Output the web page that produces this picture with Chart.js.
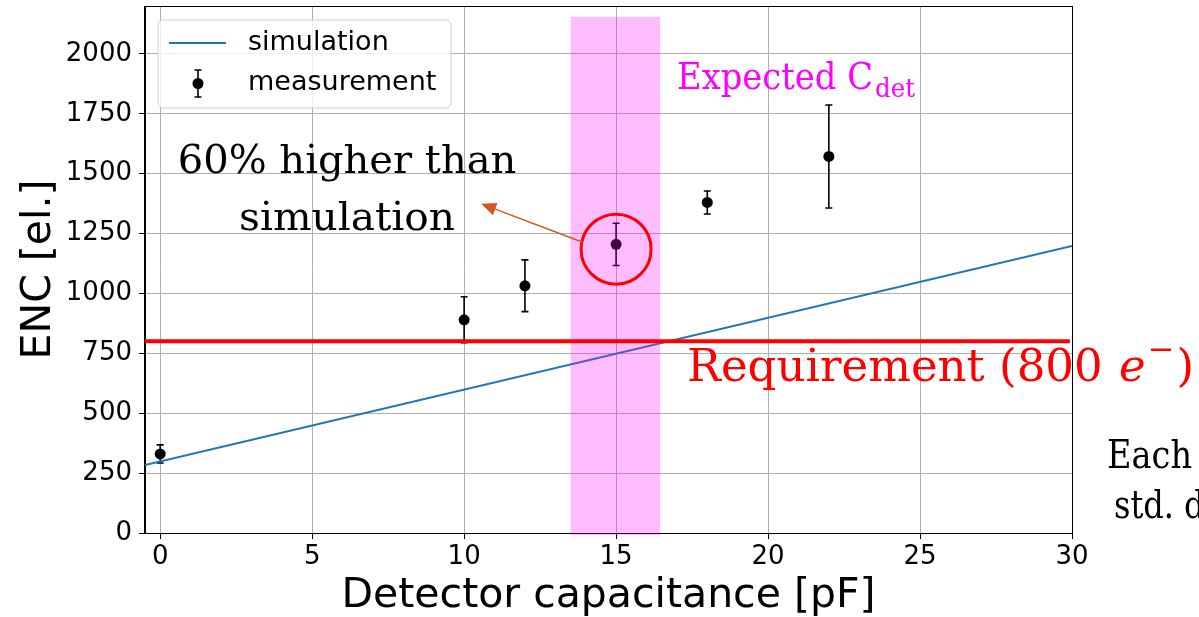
<!DOCTYPE html>
<html>
<head>
<meta charset="utf-8">
<script src="https://cdn.jsdelivr.net/npm/chart.js@4/dist/chart.umd.min.js"></script>
<style>
  html, body { margin: 0; padding: 0; background: #fff; }
  canvas { display: block; }
</style>
</head>
<body>
<canvas id="enc" width="1199" height="617"></canvas>
<script>
// Simulated ENC vs detector capacitance (straight line)
const simC = [-0.5, 30];
const simENC = [284, 1198];

// Measured ENC with one-sigma spread
const measC = [0, 10, 12, 15, 18, 22];
const measENC = [330, 890, 1032, 1205, 1380, 1572];
const measErr = [38, 96, 108, 88, 48, 215];

// Axis ticks
const xTicks = [0, 5, 10, 15, 20, 25, 30];
const yTicks = [0, 250, 500, 750, 1000, 1250, 1500, 1750, 2000];

// Design values marked on top of the plot
const requirementENC = 800;
const expectedCdet = [13.5, 16.45];
const expectedTop = 2155;
const highlight = [15, 1185];
const arrowFrom = [13.88, 1215];
const arrowTo = [10.56, 1374];

const SANS = '"DejaVu Sans", sans-serif';
const SERIF = '"DejaVu Serif", serif';

// Serif text helper: optional target width or horizontal squeeze
function txt(ctx, s, x, y, opt) {
  ctx.save();
  ctx.font = (opt.style || '') + ' ' + opt.size + 'px ' + SERIF;
  ctx.fillStyle = opt.color || '#000';
  ctx.textBaseline = 'alphabetic';
  const w = ctx.measureText(s).width;
  const sx = opt.width ? opt.width / w : (opt.sx || 1);
  let x0 = x;
  if (opt.align === 'center') x0 = x - (w * sx) / 2;
  ctx.translate(x0, y);
  ctx.scale(sx, 1);
  ctx.textAlign = 'left';
  ctx.fillText(s, 0, 0);
  ctx.restore();
  return w * sx;
}

const errorBars = {
  id: 'errorBars',
  beforeDatasetDraw(chart, args) {
    if (args.index !== 1) return;
    const { ctx, scales: { x, y } } = chart;
    ctx.save();
    ctx.strokeStyle = '#000';
    ctx.lineWidth = 1.6;
    measC.forEach((c, i) => {
      const px = x.getPixelForValue(c);
      const top = y.getPixelForValue(measENC[i] + measErr[i]);
      const bot = y.getPixelForValue(measENC[i] - measErr[i]);
      ctx.beginPath();
      ctx.moveTo(px, top); ctx.lineTo(px, bot);
      ctx.moveTo(px - 3.5, top); ctx.lineTo(px + 3.5, top);
      ctx.moveTo(px - 3.5, bot); ctx.lineTo(px + 3.5, bot);
      ctx.stroke();
    });
    ctx.restore();
  }
};

const frameAndLegend = {
  id: 'frameAndLegend',
  afterDatasetsDraw(chart) {
    const { ctx, chartArea: a } = chart;
    ctx.save();
    // axes frame
    ctx.strokeStyle = '#000';
    ctx.lineWidth = 1;
    ctx.strokeRect(Math.round(a.left) - 0.5, Math.round(a.top) + 0.5,
                   Math.round(a.right - a.left) + 1, Math.round(a.bottom - a.top));

    // legend box
    const bx = 158, by = 20, bw = 293, bh = 88, r = 5;
    ctx.beginPath();
    ctx.moveTo(bx + r, by);
    ctx.arcTo(bx + bw, by, bx + bw, by + bh, r);
    ctx.arcTo(bx + bw, by + bh, bx, by + bh, r);
    ctx.arcTo(bx, by + bh, bx, by, r);
    ctx.arcTo(bx, by, bx + bw, by, r);
    ctx.closePath();
    ctx.fillStyle = 'rgba(255,255,255,0.8)';
    ctx.fill();
    ctx.strokeStyle = '#d0d0d0';
    ctx.lineWidth = 1;
    ctx.stroke();

    const ds = chart.data.datasets;
    // line entry
    ctx.strokeStyle = ds[0].borderColor;
    ctx.lineWidth = 2;
    ctx.beginPath();
    ctx.moveTo(169, 43); ctx.lineTo(226, 43);
    ctx.stroke();
    // error-bar entry
    ctx.strokeStyle = '#000';
    ctx.lineWidth = 1.6;
    ctx.beginPath();
    ctx.moveTo(198, 70); ctx.lineTo(198, 97);
    ctx.moveTo(194.5, 70); ctx.lineTo(201.5, 70);
    ctx.moveTo(194.5, 97); ctx.lineTo(201.5, 97);
    ctx.stroke();
    ctx.fillStyle = '#000';
    ctx.beginPath();
    ctx.arc(198, 83.5, 5.5, 0, Math.PI * 2);
    ctx.fill();

    ctx.font = '27px ' + SANS;
    ctx.textBaseline = 'middle';
    ctx.fillStyle = '#000';
    ctx.fillText(ds[0].label, 248, 43);
    ctx.fillText(ds[1].label, 248, 83);
    ctx.restore();
  }
};

const overlays = {
  id: 'overlays',
  afterDraw(chart) {
    const { ctx, scales: { x, y } } = chart;
    ctx.save();

    // expected detector capacitance band
    const bl = x.getPixelForValue(expectedCdet[0]);
    const br = x.getPixelForValue(expectedCdet[1]);
    const bt = y.getPixelForValue(expectedTop);
    const bb = y.getPixelForValue(0) + 2;
    ctx.fillStyle = 'rgba(255,0,255,0.26)';
    ctx.fillRect(bl, bt, br - bl, bb - bt);

    // requirement line
    const ry = y.getPixelForValue(requirementENC);
    ctx.strokeStyle = '#ff0000';
    ctx.lineWidth = 4;
    ctx.beginPath();
    ctx.moveTo(x.getPixelForValue(-0.5), ry);
    ctx.lineTo(x.getPixelForValue(29.93), ry);
    ctx.stroke();

    // circle around the 15 pF point
    ctx.lineWidth = 3;
    ctx.beginPath();
    ctx.arc(x.getPixelForValue(highlight[0]), y.getPixelForValue(highlight[1]), 35, 0, Math.PI * 2);
    ctx.stroke();

    // arrow towards the comment
    const ax0 = x.getPixelForValue(arrowFrom[0]), ay0 = y.getPixelForValue(arrowFrom[1]);
    const ax1 = x.getPixelForValue(arrowTo[0]), ay1 = y.getPixelForValue(arrowTo[1]);
    const ang = Math.atan2(ay1 - ay0, ax1 - ax0);
    const hl = 15, hw = 6.5;
    const hx = ax1 - hl * Math.cos(ang), hy = ay1 - hl * Math.sin(ang);
    ctx.strokeStyle = '#d4561e';
    ctx.fillStyle = '#d4561e';
    ctx.lineWidth = 1.5;
    ctx.beginPath();
    ctx.moveTo(ax0, ay0); ctx.lineTo(hx, hy);
    ctx.stroke();
    ctx.beginPath();
    ctx.moveTo(ax1, ay1);
    ctx.lineTo(hx + hw * Math.sin(ang), hy - hw * Math.cos(ang));
    ctx.lineTo(hx - hw * Math.sin(ang), hy + hw * Math.cos(ang));
    ctx.closePath();
    ctx.fill();

    // comment text
    txt(ctx, '60% higher than', 347, 173, { size: 40, align: 'center' });
    txt(ctx, 'simulation', 347, 230, { size: 40, align: 'center', width: 216 });

    // expected capacitance label
    const magenta = '#ff00ff';
    const w = txt(ctx, 'Expected C', 677, 89, { size: 37, color: magenta, width: 196 });
    txt(ctx, 'det', 677 + w + 2, 97, { size: 26, color: magenta, width: 40 });

    // requirement label
    const red = '#ff0000';
    let px = 687;
    px += txt(ctx, 'Requirement (800 ', px, 381, { size: 45, color: red, width: 430 });
    px += txt(ctx, 'e', px + 2, 381, { size: 45, color: red, style: 'italic' }) + 4;
    px += txt(ctx, '\u2212', px, 360, { size: 32, color: red }) + 2;
    txt(ctx, ')', px, 381, { size: 45, color: red });

    // side note
    txt(ctx, 'Each point', 1107, 468, { size: 40, sx: 0.84 });
    txt(ctx, 'std. dev.', 1114, 518, { size: 40, sx: 0.8 });

    ctx.restore();
  }
};

const plainTick = v => String(v);

new Chart(document.getElementById('enc'), {
  type: 'scatter',
  data: {
    datasets: [
      {
        label: 'simulation',
        type: 'line',
        data: simC.map((c, i) => ({ x: c, y: simENC[i] })),
        borderColor: '#1f77b4',
        borderWidth: 2,
        pointRadius: 0,
        fill: false,
        tension: 0
      },
      {
        label: 'measurement',
        data: measC.map((c, i) => ({ x: c, y: measENC[i] })),
        backgroundColor: '#000',
        borderWidth: 0,
        pointRadius: 5.5,
        pointHoverRadius: 5.5
      }
    ]
  },
  options: {
    responsive: false,
    animation: false,
    devicePixelRatio: 1,
    layout: { padding: { top: 6, right: 127, bottom: 0, left: 0 } },
    plugins: { legend: { display: false }, tooltip: { enabled: false } },
    scales: {
      x: {
        type: 'linear',
        min: -0.5,
        max: 30,
        afterFit(s) { s.height = 84; s.paddingLeft = 0; s.paddingRight = 0; },
        afterBuildTicks(s) { s.ticks = xTicks.map(v => ({ value: v })); },
        grid: { color: '#b0b0b0', lineWidth: 1, tickColor: '#000', tickLength: 6 },
        border: { display: true, color: '#000', width: 1 },
        ticks: { color: '#000', padding: 3, font: { family: SANS, size: 26 }, maxRotation: 0, callback: plainTick },
        title: {
          display: true,
          text: 'Detector capacitance [pF]',
          color: '#000',
          font: { family: SANS, size: 41, lineHeight: 1 },
          padding: { top: 0, bottom: 0 }
        }
      },
      y: {
        type: 'linear',
        min: 0,
        max: 2200,
        afterFit(s) { s.width = 145; s.paddingTop = 0; s.paddingBottom = 0; },
        afterBuildTicks(s) { s.ticks = yTicks.map(v => ({ value: v })); },
        grid: { color: '#b0b0b0', lineWidth: 1, tickColor: '#000', tickLength: 6 },
        border: { display: true, color: '#000', width: 1 },
        ticks: { color: '#000', padding: 7, font: { family: SANS, size: 26 }, callback: plainTick },
        title: {
          display: true,
          text: 'ENC [el.]',
          color: '#000',
          font: { family: SANS, size: 41, lineHeight: 1.2 },
          padding: { top: 15, bottom: 0 }
        }
      }
    }
  },
  plugins: [errorBars, frameAndLegend, overlays]
});
</script>
</body>
</html>
